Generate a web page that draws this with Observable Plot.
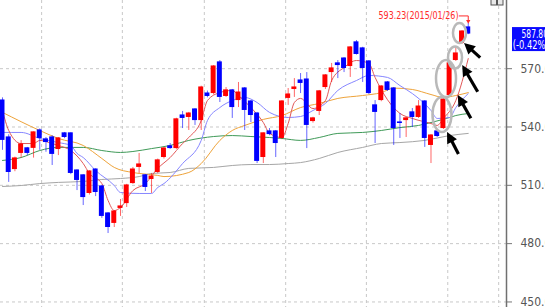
<!DOCTYPE html>
<html><head><meta charset="utf-8">
<script src="https://cdn.jsdelivr.net/npm/d3@7"></script>
<script src="https://cdn.jsdelivr.net/npm/@observablehq/plot@0.6"></script>
<style>
html,body{margin:0;padding:0;background:#fff;overflow:hidden;}
#chart svg{display:block;}
</style></head><body><div id="chart"></div>
<script>
// Daily candles (index 0 = leftmost)
const opens  = [553.6,534.6,518.1,526.4,529,529,538.2,533.6,534.6,528.4,536.7,536.7,517.6,515.1,505.8,518.1,509.4,495.5,490.4,498.1,500.6,510.9,519.2,515.1,513,516.6,524.3,530,528.9,545.9,544.9,549,543.3,557.2,557.2,573.2,555.7,558.8,553.6,559.8,553.1,546.9,524.3,537.7,537.7,534.1,554.7,559.3,563.9,564.4,542.8,548,560.3,568,572.7,575.2,571.1,583.5,580.4,573.7,551.1,553.6,562.9,559.8,542.3,543.3,547.5,544.9,553.1,530.5,537.7,539.2,556.2,574.2,583,591.2];
const closes = [533.1,516.6,523.8,531.0,526.4,537.2,534.1,532,525.9,534.1,534.6,516.1,512.5,503.7,517.1,506.3,494.0,488.3,496.5,499.1,509.9,518.1,520.7,508.9,514.5,522.8,528.9,528.9,543.9,544.4,546.9,543.3,560.3,555.7,571.1,555.2,558.8,550.0,557.7,548.5,545.9,522.3,536.7,536.1,531.5,553.1,556.7,560.3,562.4,540.8,544.4,558.3,566.5,570.1,571.6,570.1,580.9,577.3,570.1,557.2,547.5,560.8,558.8,539.2,541.8,544.4,544.9,550.5,534.1,535.6,535.1,554.1,572.7,577.8,589.1,587.8];
const highs  = [555,536,524.5,533,529.5,537.5,539,534.6,535.5,534.6,537.2,537,518,515.5,517.5,518.5,510,496,497,502.7,510.5,519.2,526.4,515.5,516.1,523.5,529.5,531.5,544.5,548,547.5,549.5,561,558.5,571.6,574.2,560.3,559.3,562.9,560.3,553.6,547.5,537,539.2,538.2,553.6,559.8,564.9,567.5,568,545,558.8,567,572.7,574.2,575.7,581.4,584.5,581,574.2,553.6,561.3,563.4,560.3,546.9,544.9,549.5,553.6,553.6,536.1,538.2,554.7,573.2,580.9,589.6,593.23];
const lows   = [528,511.5,517,524,525.3,524,528,527,520.2,525.3,534,515.5,507.3,499.6,505,504.2,493,485.2,488.3,494,498.6,510.5,516.1,506.8,505.8,516,523.5,528.5,528.5,539.2,538.2,540.8,538.2,555,556.5,552.6,555.2,544.4,550.0,538.2,542.3,521.2,521.2,535.5,524.3,533.5,551.1,555.2,557.2,528.9,542,545.9,559.3,562.9,564.9,568,565.5,577,562.9,556.7,531.5,553,558.3,530.5,534.1,534.6,539.7,544.4,529.5,521.2,534.6,538.7,555.7,573.7,582.5,587.5];

// Moving average lines (candle index, value)
const ma5Idx = [0,1,3,5,6,8,9,11,13,14,16,17,18,19,21,23,25,27,29,30,32,33,35,37,38,40,42,43,45,46,47,48,50,52,53,55,57,59,60,62,64,66,69,70,71,73,75];
const ma5    = [548.5,538.2,531.5,531.5,533.1,531.5,530.5,527.9,521.2,516.1,510.9,502.2,497.0,498.6,507.3,510.9,518.7,524.3,531.5,534.6,543.3,553.6,557.7,558.8,556.2,550.0,542.3,536.7,534.6,541.8,552.6,554.7,549.5,553.6,563.9,570.6,574.2,572.7,565.5,554.0,547.0,544.4,541.8,540.8,544.4,553.6,575.2];
const ma10Idx = [0,3,6,9,11,12,13,15,18,19,22,24,25,26,29,32,33,35,37,39,41,43,46,48,50,52,54,57,59,62,64,66,69,70,72,73,75];
const ma10    = [537.2,537.2,534.1,532.0,530.5,526.4,524.3,517.6,509.9,506.3,505.8,505.8,508.9,510.9,521.2,533.1,543.3,550.0,553.6,555.2,552.6,547.5,544.9,545.4,548.5,552.1,558.8,563.9,566.5,565.5,561.3,557.2,548.5,544.4,544.9,550.0,557.2];
const ma20Idx = [0,6,9,13,16,18,21,22,25,26,30,32,35,37,39,42,45,48,51,54,58,61,63,66,69,71,73,75];
const ma20    = [547.5,538.2,534.1,530.5,523.8,519.2,516.6,516.1,515.1,514.5,516.6,521.2,533.1,538.2,540.8,543.9,545.9,550.0,552.1,554.7,556.2,557.7,560.0,559.3,556.7,555.2,556.2,557.7];
const ma60Idx = [0,3,6,9,13,16,19,21,24,27,30,34,37,40,43,45,48,51,54,58,61,64,67,69,72,73,75];
const ma60    = [522.8,524.3,527.9,529.5,529.5,527.9,526.9,527.4,528.9,530.5,533.1,535.1,535.6,535.1,534.6,534.1,533.1,534.6,536.7,537.2,538.2,539.7,540.8,542.3,544.9,545.9,546.9];
const ma120Idx = [0,3,6,9,13,16,19,22,24,27,30,34,37,40,43,46,48,51,54,58,61,64,68,72,75];
const ma120    = [509.4,509.9,510.9,511.5,512.0,513.0,513.5,514.5,516.1,516.6,518.7,519.2,520.2,520.7,520.7,521.2,521.7,523.8,526.9,529.5,531.5,532.0,533.1,535.6,536.7];

// Axis / grid
const yTicks = [450, 480, 510, 540, 570];
const gridIdx = [6.3, 19.3, 32.5, 45.6, 58.6, 71.7, 79.9];
const xDomain = [-0.322, 81.16];
const yDomain = [447.15, 605.07];

// Annotations
const highLabelDate = "2015/01/26";
const changePct = "-0.42%";
const ellipseCx = [70.85, 71.5, 72.95, 73.67];
const ellipseCy = [546.2, 564.7, 575.5, 588.1];
const ellipseRx = [1.53, 1.61, 1.13, 1.05];
const ellipseRy = [9.0, 9.5, 5.66, 5.14];
const arrowTip  = [[71.66,537.2],[73.4,556.2],[74.1,571.6],[74.4,583.0]];
const arrowTail = [[73.5,525.9],[75.5,544.2],[76.6,557.9],[77.0,575.4]];

const UP = "#ff0000", DOWN = "#0000ff";
const FONT = "'Liberation Sans Narrow','Arial Narrow','DejaVu Sans Condensed',sans-serif";

const n = opens.length;
const candles = d3.range(n).map(i => ({i, o: opens[i], c: closes[i], h: highs[i], l: lows[i], up: closes[i] >= opens[i]}));
const ser = (idx, vals) => idx.map((k, j) => ({i: k, v: vals[j]}));
const maLine = (idx, vals, color) => Plot.line(ser(idx, vals), {x: "i", y: "v", stroke: color, strokeWidth: 1, curve: "monotone-x"});

const last = candles[n - 1];
const hiVal = d3.max(highs);
const hiIdx = highs.indexOf(hiVal);

const chart = Plot.plot({
  width: 545, height: 307,
  marginLeft: 0, marginRight: 39, marginTop: 0, marginBottom: 0,
  x: {type: "linear", domain: xDomain, axis: null},
  y: {domain: yDomain, axis: null},
  style: {background: "#fff", fontFamily: FONT, fontSize: "12px", overflow: "hidden"},
  marks: [
    Plot.gridY(yTicks, {stroke: "#c8c8c8", strokeOpacity: 1, strokeDasharray: "3,3"}),
    Plot.ruleX(gridIdx, {stroke: "#c8c8c8", strokeDasharray: "3,3"}),
    maLine(ma120Idx, ma120, "#a6a6a6"),
    maLine(ma60Idx, ma60, "#3f9a58"),
    maLine(ma20Idx, ma20, "#eea33a"),
    maLine(ma10Idx, ma10, "#8686ff"),
    maLine(ma5Idx, ma5, "#e25858"),
    Plot.ruleX(candles, {x: "i", y1: "l", y2: "h", stroke: d => d.up ? UP : DOWN, strokeOpacity: 0.6, strokeWidth: 1}),
    Plot.rect(candles, {x1: d => d.i - 0.4, x2: d => d.i + 0.4,
      y1: d => Math.min(d.o, d.c), y2: d => Math.max(d.o, d.c) + 0.3,
      fill: d => d.up ? UP : DOWN}),
    Plot.axisY(yTicks, {anchor: "right", label: null, tickFormat: d => d.toFixed(2), tickSize: 5, tickPadding: 9,
      stroke: "#777", color: "#555", fontSize: 12}),
    Plot.ruleX([xDomain[1]], {stroke: "#707070", strokeWidth: 1.5}),
    Plot.text([`${hiVal.toFixed(2)}(${highLabelDate})`], {x: hiIdx - 1.57, y: hiVal + 3.9, text: d => d, textAnchor: "end", fill: "#ff2a2a", fontSize: 11, className: "hilabel"}),
    Plot.line([[hiIdx - 1.45, hiVal + 3.9], [hiIdx, hiVal + 3.9], [hiIdx, hiVal + 1.6]], {stroke: "#ff2a2a", strokeWidth: 1}),
    Plot.dot([[hiIdx, hiVal + 1.2]], {symbol: "triangle", r: 1.6, rotate: 180, fill: "#ff2a2a", stroke: null})
  ]
});
document.getElementById("chart").appendChild(chart);

// narrow the high label to the reference's compact font width
d3.select(chart).selectAll(".hilabel text").attr("textLength", 80).attr("lengthAdjust", "spacingAndGlyphs");

// overlay annotations (ellipses, arrows, last price box) in the plot's own scales
const xs = chart.scale("x"), ys = chart.scale("y");
const sx = d3.scaleLinear(xs.domain, xs.range), sy = d3.scaleLinear(ys.domain, ys.range);
const svg = d3.select(chart);
const g = svg.append("g").attr("text-anchor", "start");
ellipseCx.forEach((cx, k) => {
  g.append("ellipse")
    .attr("cx", sx(cx)).attr("cy", sy(ellipseCy[k]))
    .attr("rx", sx(cx + ellipseRx[k]) - sx(cx)).attr("ry", sy(ellipseCy[k]) - sy(ellipseCy[k] + ellipseRy[k]))
    .attr("fill", "none").attr("stroke", "#b9b9b9").attr("stroke-width", 2.5);
});
arrowTip.forEach((tip, k) => {
  const x2 = sx(tip[0]), y2 = sy(tip[1]);
  const x1 = sx(arrowTail[k][0]), y1 = sy(arrowTail[k][1]);
  const a = Math.atan2(y2 - y1, x2 - x1);
  const L = 11, W = 5.5;
  const bx = x2 - L * Math.cos(a), by = y2 - L * Math.sin(a);
  g.append("line").attr("x1", x1).attr("y1", y1).attr("x2", bx + 1 * Math.cos(a)).attr("y2", by + 1 * Math.sin(a))
    .attr("stroke", "#000").attr("stroke-width", 3.2);
  g.append("path")
    .attr("d", `M${x2},${y2}L${bx - W * Math.sin(a)},${by + W * Math.cos(a)}L${bx + W * Math.sin(a)},${by - W * Math.cos(a)}Z`)
    .attr("fill", "#000");
});
// last price box
const axX = sx(xDomain[1]);
const py = sy(last.c);
g.append("rect").attr("x", axX + 6).attr("y", py - 6.5).attr("width", 40).attr("height", 24).attr("fill", "#0a0aff");
g.append("text").attr("x", axX + 15.5).attr("y", py + 4).attr("text-anchor", "start").attr("fill", "#fff")
  .attr("font-family", FONT).attr("font-size", 11.5).attr("textLength", 26.5).attr("lengthAdjust", "spacingAndGlyphs")
  .text(last.c.toFixed(2));
g.append("text").attr("x", axX + 6.8).attr("y", py + 15.5).attr("text-anchor", "start").attr("fill", "#fff")
  .attr("font-family", FONT).attr("font-size", 11.5).attr("textLength", 36).attr("lengthAdjust", "spacingAndGlyphs")
  .text(`(${changePct})`);
// window buttons at top right of the price pane
[0, 1].forEach(k => {
  g.append("rect").attr("x", axX - 15 + k * 6.5).attr("y", -1).attr("width", 5.5).attr("height", 6)
    .attr("fill", "#e8e8e8").attr("stroke", "#555").attr("stroke-width", 1);
});
</script>
</body></html>
